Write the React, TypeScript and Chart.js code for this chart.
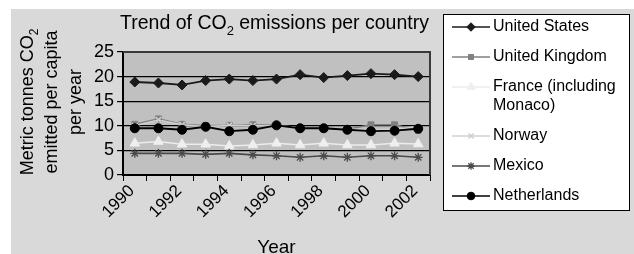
import React, { useEffect, useRef } from 'react';
import { Chart, registerables } from 'chart.js';
import { drawPoint } from 'chart.js/helpers';

Chart.register(...registerables);

const FONT = '"Liberation Sans", Arial, Helvetica, sans-serif';

const years = ['1990', '1991', '1992', '1993', '1994', '1995', '1996', '1997', '1998', '1999', '2000', '2001', '2002'];
const countries = ['United States', 'United Kingdom', 'France (including Monaco)', 'Norway', 'Mexico', 'Netherlands'];

const unitedStates = [18.9, 18.7, 18.3, 19.2, 19.5, 19.2, 19.5, 20.4, 19.8, 20.2, 20.6, 20.4, 20.0];
const unitedKingdom = [10.3, 11.4, 10.3, 10.0, 10.1, 10.2, 10.1, 9.6, 9.5, 9.3, 10.2, 10.2, 9.1];
const france = [6.45, 6.8, 6.25, 6.25, 5.9, 6.1, 6.45, 6.1, 6.45, 6.1, 6.1, 6.45, 6.3];
const norway = [10.0, 11.2, 10.2, 9.8, 10.1, 10.0, 10.0, 9.6, 9.5, 9.3, 9.2, 9.3, 9.8];
const mexico = [4.4, 4.4, 4.4, 4.2, 4.4, 4.1, 3.9, 3.6, 3.9, 3.6, 3.9, 3.9, 3.6];
const netherlands = [9.5, 9.5, 9.2, 9.8, 8.9, 9.2, 10.1, 9.5, 9.5, 9.2, 8.9, 9.0, 9.4];

const yTicks = [0, 5, 10, 15, 20, 25];

const TITLE = 'Trend of CO₂ emissions per country';
const Y_TITLE = ['Metric tonnes CO₂', 'emitted per capita', 'per year'];
const X_TITLE = 'Year';

const seriesData = [unitedStates, unitedKingdom, france, norway, mexico, netherlands];
const styles = [
  { line: '#1a1a1a', fill: '#1a1a1a', stroke: '#1a1a1a', point: 'rectRot', radius: 5, bw: 1, lw: 1.8 },
  { line: '#808080', fill: '#808080', stroke: '#808080', point: 'rect', radius: 4.2, bw: 1, lw: 1.6 },
  { line: '#ececec', fill: '#efefef', stroke: '#efefef', point: 'triangle', radius: 5.5, bw: 1, lw: 1.6 },
  { line: '#d0d0d0', fill: '#d0d0d0', stroke: '#d0d0d0', point: 'crossRot', radius: 4, bw: 1.5, lw: 1.5 },
  { line: '#4a4a4a', fill: '#4a4a4a', stroke: '#4a4a4a', point: 'star', radius: 4.5, bw: 1.3, lw: 1.6 },
  { line: '#000000', fill: '#000000', stroke: '#000000', point: 'circle', radius: 4.5, bw: 1, lw: 1.8 },
];

function drawRich(ctx: CanvasRenderingContext2D, text: string, x: number, y: number, size: number) {
  const segs = text.split('₂');
  const main = `${size}px ${FONT}`;
  const sub = `${Math.round(size * 0.68)}px ${FONT}`;
  let w = 0;
  segs.forEach((s, i) => {
    ctx.font = main;
    w += ctx.measureText(s).width;
    if (i < segs.length - 1) {
      ctx.font = sub;
      w += ctx.measureText('2').width;
    }
  });
  let cx = x - w / 2;
  ctx.textAlign = 'left';
  ctx.textBaseline = 'alphabetic';
  segs.forEach((s, i) => {
    ctx.font = main;
    ctx.fillText(s, cx, y);
    cx += ctx.measureText(s).width;
    if (i < segs.length - 1) {
      ctx.font = sub;
      ctx.fillText('2', cx, y + size * 0.3);
      cx += ctx.measureText('2').width;
    }
  });
}

const framePlugin = {
  id: 'frame',
  beforeDraw(chart: any) {
    const { ctx, chartArea: a } = chart;
    ctx.save();
    ctx.fillStyle = '#c0c0c0';
    ctx.fillRect(a.left, a.top, a.right - a.left, a.bottom - a.top);
    ctx.restore();
  },
  afterDatasetsDraw(chart: any) {
    const { ctx, chartArea: a } = chart;
    ctx.save();
    ctx.strokeStyle = '#3a3a3a';
    ctx.lineWidth = 2;
    ctx.beginPath();
    ctx.moveTo(a.left, a.top);
    ctx.lineTo(a.right, a.top);
    ctx.lineTo(a.right, a.bottom);
    ctx.stroke();
    ctx.restore();
  },
  afterDraw(chart: any) {
    const { ctx, chartArea: a } = chart;
    ctx.save();
    ctx.fillStyle = '#000';
    // main title
    drawRich(ctx, TITLE, (a.left + a.right) / 2 - 2, 20, 19.5);
    // y title
    ctx.save();
    ctx.translate(0, 93);
    ctx.rotate(-Math.PI / 2);
    const baseX = [22, 46, 70];
    Y_TITLE.forEach((line, i) => {
      drawRich(ctx, line, 0, baseX[i], 18);
    });
    ctx.restore();

    // legend
    const bx = 432, by = 5, bw = 186, bh = 196;
    ctx.fillStyle = '#ffffff';
    ctx.fillRect(bx, by, bw, bh);
    ctx.strokeStyle = '#000';
    ctx.lineWidth = 1;
    ctx.strokeRect(bx + 0.5, by + 0.5, bw, bh);
    ctx.font = `16px ${FONT}`;
    let y = 18;
    countries.forEach((name, i) => {
      const st = styles[i];
      const words = name.split(' ');
      const lines: string[] = [];
      let cur = '';
      words.forEach((wd) => {
        const t = cur ? cur + ' ' + wd : wd;
        if (ctx.measureText(t).width > 135 && cur) {
          lines.push(cur);
          cur = wd;
        } else cur = t;
      });
      if (cur) lines.push(cur);
      ctx.strokeStyle = st.line;
      ctx.lineWidth = 1.5;
      ctx.beginPath();
      ctx.moveTo(441, y);
      ctx.lineTo(479, y);
      ctx.stroke();
      ctx.fillStyle = st.fill;
      ctx.strokeStyle = st.stroke;
      ctx.lineWidth = st.bw;
      drawPoint(ctx, { pointStyle: st.point as any, radius: st.radius * 0.85, borderWidth: st.bw, rotation: 0 }, 460, y);
      ctx.fillStyle = '#000';
      ctx.textAlign = 'left';
      ctx.textBaseline = 'middle';
      ctx.font = `16px ${FONT}`;
      lines.forEach((ln, j) => ctx.fillText(ln, 482, y + j * 19));
      y += 30 + (lines.length - 1) * 19;
    });
    ctx.restore();
  },
};

export default function App() {
  const ref = useRef<HTMLCanvasElement>(null);
  useEffect(() => {
    document.body.style.margin = '0';
    const chart = new Chart(ref.current as HTMLCanvasElement, {
      type: 'line',
      data: {
        labels: years,
        datasets: seriesData.map((d, i) => ({
          label: countries[i],
          data: d,
          order: 10 - i,
          borderColor: styles[i].line,
          backgroundColor: styles[i].fill,
          pointBackgroundColor: styles[i].fill,
          pointBorderColor: styles[i].stroke,
          pointBorderWidth: styles[i].bw,
          pointStyle: styles[i].point as any,
          pointRadius: styles[i].radius,
          borderWidth: styles[i].lw,
          tension: 0,
          fill: false,
        })),
      },
      options: {
        animation: false,
        responsive: false,
        devicePixelRatio: 1,
        layout: { padding: { top: 43, right: 204, left: 0, bottom: 0 } },
        plugins: {
          legend: { display: false },
          tooltip: { enabled: false },
          title: { display: false },
        },
        scales: {
          x: {
            type: 'category',
            offset: true,
            grid: {
              offset: true,
              drawOnChartArea: false,
              drawTicks: true,
              tickLength: 6,
              color: '#000',
            },
            border: { color: '#000', width: 2 },
            ticks: {
              autoSkip: false,
              maxRotation: 45,
              minRotation: 45,
              padding: 0,
              labelOffset: -3,
              color: '#000',
              font: { size: 17, family: FONT },
              callback: (_v: any, idx: number) => (idx % 2 === 0 ? years[idx] : ''),
            },
            title: {
              display: true,
              text: X_TITLE,
              color: '#000',
              font: { size: 19, family: FONT, lineHeight: 0.7 },
              padding: { top: 0, bottom: 0 },
            },
            afterFit: (s: any) => {
              s.height = 79;
            },
          },
          y: {
            min: yTicks[0],
            max: yTicks[yTicks.length - 1],
            afterBuildTicks: (s: any) => {
              s.ticks = yTicks.map((v) => ({ value: v }));
            },
            grid: {
              color: (c: any) => (c.tick && c.tick.value === 0 ? 'rgba(0,0,0,0)' : '#000'),
              tickColor: '#000',
              tickLength: 6,
              lineWidth: 1.2,
            },
            border: { color: '#000', width: 2 },
            ticks: {
              color: '#000',
              padding: 3,
              font: { size: 18, family: FONT },
            },
            afterFit: (s: any) => {
              s.width = 112;
            },
          },
        },
      },
      plugins: [framePlugin],
    });
    return () => chart.destroy();
  }, []);
  return (
    <div style={{ position: 'relative', width: 634, height: 254, background: '#fff', overflow: 'hidden' }}>
      <div style={{ position: 'absolute', left: 11, top: 9, width: 623, height: 245, background: '#d9d9d9' }}>
        <canvas ref={ref} width={623} height={245} style={{ display: 'block', width: 623, height: 245 }} />
      </div>
    </div>
  );
}
